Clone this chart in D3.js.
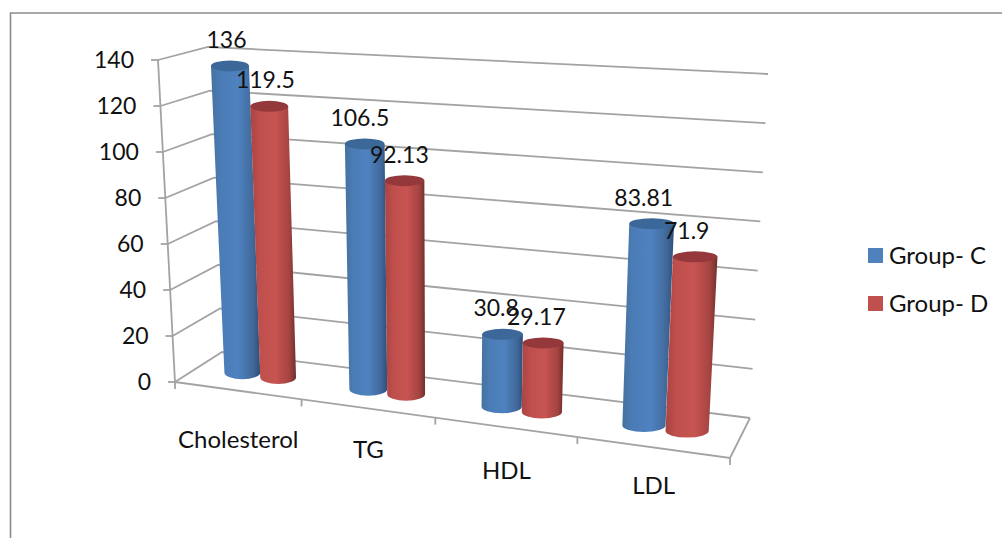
<!DOCTYPE html>
<html>
<head>
<meta charset="utf-8">
<script src="https://cdn.jsdelivr.net/npm/d3@7"></script>
<style>
  html, body { margin: 0; padding: 0; background: #fff; overflow: hidden; }
  text { font-family: Lato, "Open Sans", sans-serif; fill: #111; }
</style>
</head>
<body>
<div id="chart"></div>
<script>
const categories = ["Cholesterol", "TG", "HDL", "LDL"]
const groupNames = ["Group- C", "Group- D"]
const groupC = [136, 106.5, 30.8, 83.81]
const groupD = [119.5, 92.13, 29.17, 71.9]
const valueTicks = [0, 20, 40, 60, 80, 100, 120, 140]

const width = 1002
const height = 538
const numberFont = 23
const wordFont = 24

// corners of the 3D box as it lands on the page
const box = {
  frontBottom: [[175, 382], [730, 458]],
  backBottom: [[222, 352], [750, 418]],
  frontTop: [[158, 60], [750, 118]],
  backTop: [[208, 47], [768, 74]]
}

// the category axis is foreshortened, so its steps are not equal
const uScale = d3.scaleLinear().domain([0, 1, 2, 3, 4]).range([0, 0.228, 0.469, 0.725, 1])
const tScale = d3.scaleLinear().domain([0, 140]).range([0, 1])

const mix = (a, b, k) => [a[0] + (b[0] - a[0]) * k, a[1] + (b[1] - a[1]) * k]

function project(u, depth, t) {
  const bottom = mix(mix(box.frontBottom[0], box.frontBottom[1], u), mix(box.backBottom[0], box.backBottom[1], u), depth)
  const top = mix(mix(box.frontTop[0], box.frontTop[1], u), mix(box.backTop[0], box.backTop[1], u), depth)
  return mix(bottom, top, t)
}

const svg = d3.select("#chart").append("svg")
  .attr("width", width)
  .attr("height", height)
  .style("display", "block")

const defs = svg.append("defs")
defs.append("filter").attr("id", "soft")
  .attr("x", "-10%").attr("y", "-10%").attr("width", "120%").attr("height", "120%")
  .append("feGaussianBlur").attr("stdDeviation", 0.7)

function addGradient(id, stops) {
  const g = defs.append("linearGradient").attr("id", id)
  stops.forEach(s => g.append("stop").attr("offset", s[0]).attr("stop-color", s[1]))
}
addGradient("cylC", [[0, "#44729f"], [0.2, "#4b7cb6"], [0.55, "#4f82c0"], [0.85, "#41699b"], [1, "#2e4f78"]])
addGradient("cylD", [[0, "#a84442"], [0.2, "#bf4f4c"], [0.55, "#c75452"], [0.85, "#a54441"], [1, "#6f2f2d"]])

const seriesStyle = [
  { values: groupC, fill: "url(#cylC)", cap: "#3b6899", swatch: "#4f81bd" },
  { values: groupD, fill: "url(#cylD)", cap: "#94393a", swatch: "#c0504d" }
]

// chart frame
svg.append("path")
  .attr("d", "M10.5,538V13H1002")
  .attr("fill", "none")
  .attr("stroke", "#8c8c8c")
  .attr("stroke-width", 1.6)

// walls, floor and axes
const grid = svg.append("g")
  .attr("fill", "none")
  .attr("stroke", "#a3a3a3")
  .attr("stroke-width", 1.8)
  .attr("filter", "url(#soft)")

const line = d3.line()

valueTicks.forEach(v => {
  const t = tScale(v)
  grid.append("path").attr("d", line([project(0, 0, t), project(0, 1, t), project(1, 1, t)]))
  const p = project(0, 0, t)
  grid.append("path").attr("d", line([p, [p[0] - 7, p[1]]]))
})
grid.append("path").attr("d", line([project(0, 0, 0), project(0, 0, 1)]))
grid.append("path").attr("d", line([project(0, 0, 0), project(1, 0, 0), project(1, 1, 0)]))

d3.range(categories.length + 1).forEach(i => {
  const p = project(uScale(i), 0, 0)
  grid.append("path").attr("d", line([p, [p[0], p[1] + 7]]))
})

// value tick labels
svg.append("g").selectAll("text")
  .data(valueTicks)
  .join("text")
  .attr("x", d => project(0, 0, tScale(d))[0] - 24)
  .attr("y", d => project(0, 0, tScale(d))[1])
  .attr("dy", "0.35em")
  .attr("text-anchor", "end")
  .attr("font-size", numberFont)
  .text(d => d)

// cylinders stand half way back on the floor
const barDepth = 0.5
const barShare = 0.29
const labels = []

function drawCylinder(parent, catIndex, seriesIndex, value) {
  const s = seriesStyle[seriesIndex]
  const u0 = uScale(catIndex)
  const u1 = uScale(catIndex + 1)
  const w = (u1 - u0) * barShare
  const center = (u0 + u1) / 2 + (seriesIndex - 0.5) * w
  const t = tScale(value)

  // the ends of a cylinder stay level even though the floor slopes
  const base = project(center, barDepth, 0)
  const cap = project(center, barDepth, t)
  const rxBottom = (project(center + w / 2, barDepth, 0)[0] - project(center - w / 2, barDepth, 0)[0]) / 2
  const rxTop = (project(center + w / 2, barDepth, t)[0] - project(center - w / 2, barDepth, t)[0]) / 2
  const ry = 5.5

  parent.append("path")
    .attr("d", `M${base[0] - rxBottom},${base[1]}L${cap[0] - rxTop},${cap[1]}L${cap[0] + rxTop},${cap[1]}L${base[0] + rxBottom},${base[1]}A${rxBottom},${ry + 1} 0 0 1 ${base[0] - rxBottom},${base[1]}Z`)
    .attr("fill", s.fill)

  parent.append("ellipse")
    .attr("cx", cap[0])
    .attr("cy", cap[1])
    .attr("rx", rxTop)
    .attr("ry", ry)
    .attr("fill", s.cap)

  labels.push({ x: cap[0] - 3 - 6 * center, y: cap[1] - 26, text: value })
}

const bars = svg.append("g").attr("filter", "url(#soft)")
categories.forEach((cat, i) => {
  seriesStyle.forEach((s, j) => drawCylinder(bars, i, j, s.values[i]))
})

// data labels go over every bar
svg.append("g").selectAll("text")
  .data(labels)
  .join("text")
  .attr("x", d => d.x)
  .attr("y", d => d.y)
  .attr("dy", "0.35em")
  .attr("text-anchor", "middle")
  .attr("font-size", numberFont)
  .text(d => d.text)

// category labels, Excel drops each one by a slightly different amount
const catLabelDrop = [49, 41, 43, 38]
svg.append("g").selectAll("text")
  .data(categories)
  .join("text")
  .attr("x", (d, i) => project((uScale(i) + uScale(i + 1)) / 2, 0, 0)[0])
  .attr("y", (d, i) => project((uScale(i) + uScale(i + 1)) / 2, 0, 0)[1] + catLabelDrop[i])
  .attr("dy", "0.35em")
  .attr("text-anchor", "middle")
  .attr("font-size", wordFont)
  .text(d => d)

// legend
const legendY = d3.scalePoint().domain(groupNames).range([255.5, 303.5])
const legend = svg.append("g").selectAll("g")
  .data(groupNames)
  .join("g")
  .attr("transform", d => `translate(868, ${legendY(d)})`)

legend.append("rect")
  .attr("y", -7.5)
  .attr("width", 15)
  .attr("height", 15)
  .attr("fill", (d, i) => seriesStyle[i].swatch)

legend.append("text")
  .attr("x", 21)
  .attr("dy", "0.35em")
  .attr("font-size", wordFont)
  .text(d => d)
</script>
</body>
</html>
